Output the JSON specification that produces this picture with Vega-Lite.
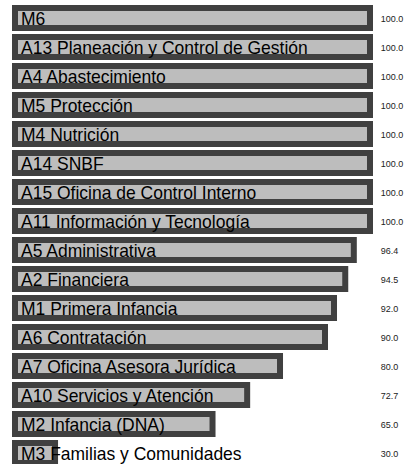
{
  "$schema": "https://vega.github.io/schema/vega-lite/v6.json",
  "width": 355,
  "height": {"step": 29},
  "autosize": {"type": "none"},
  "padding": {"left": 15, "top": 6.5, "right": 37, "bottom": 0},
  "background": "white",
  "config": {"view": {"stroke": null}},
  "data": {
    "values": [
      {"name": "M6", "value": 100.0},
      {"name": "A13 Planeación y Control de Gestión", "value": 100.0},
      {"name": "A4 Abastecimiento", "value": 100.0},
      {"name": "M5 Protección", "value": 100.0},
      {"name": "M4 Nutrición", "value": 100.0},
      {"name": "A14 SNBF", "value": 100.0},
      {"name": "A15 Oficina de Control Interno", "value": 100.0},
      {"name": "A11 Información y Tecnología", "value": 100.0},
      {"name": "A5 Administrativa", "value": 96.4},
      {"name": "A2 Financiera", "value": 94.5},
      {"name": "M1 Primera Infancia", "value": 92.0},
      {"name": "A6 Contratación", "value": 90.0},
      {"name": "A7 Oficina Asesora Jurídica", "value": 80.0},
      {"name": "A10 Servicios y Atención", "value": 72.7},
      {"name": "M2 Infancia (DNA)", "value": 65.0},
      {"name": "M3 Familias y Comunidades", "value": 30.0}
    ]
  },
  "encoding": {
    "y": {
      "field": "name",
      "type": "nominal",
      "sort": null,
      "axis": null,
      "scale": {"paddingInner": 0.31, "paddingOuter": 0.05}
    }
  },
  "layer": [
    {
      "mark": {"type": "bar", "fill": "#bdbdbd", "stroke": "#404040", "strokeWidth": 6, "clip": false},
      "encoding": {
        "x": {"field": "value", "type": "quantitative", "axis": null, "scale": {"domain": [21.1, 100], "zero": false, "nice": false}},
        "x2": {"datum": 21.1}
      }
    },
    {
      "mark": {"type": "text", "align": "left", "baseline": "alphabetic", "dx": 6, "dy": 7, "font": "Liberation Sans", "fontSize": 17.5, "color": "#000000"},
      "encoding": {
        "x": {"datum": 21.1},
        "text": {"field": "name"}
      }
    },
    {
      "mark": {"type": "text", "align": "left", "baseline": "alphabetic", "dy": 4.5, "font": "Liberation Sans", "fontSize": 9, "color": "#222222"},
      "encoding": {
        "x": {"datum": 102.4},
        "text": {"field": "value", "type": "quantitative", "format": ".1f"}
      }
    }
  ]
}
